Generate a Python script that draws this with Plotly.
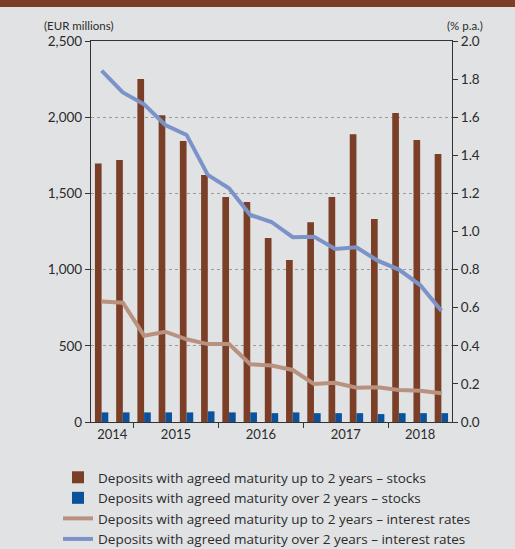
import plotly.graph_objects as go

quarters = ["2014 Q3", "2014 Q4", "2015 Q1", "2015 Q2", "2015 Q3", "2015 Q4",
            "2016 Q1", "2016 Q2", "2016 Q3", "2016 Q4", "2017 Q1", "2017 Q2",
            "2017 Q3", "2017 Q4", "2018 Q1", "2018 Q2", "2018 Q3"]
stocks_up2 = [1697, 1719, 2251, 2012, 1844, 1621, 1476, 1444, 1208, 1063,
              1310, 1476, 1888, 1332, 2028, 1850, 1758]
stocks_over2 = [63, 63, 63, 63, 63, 70, 63, 63, 58, 63, 58, 58, 58, 52, 58, 58, 58]
rate_up2 = [0.632, 0.626, 0.453, 0.474, 0.434, 0.409, 0.409, 0.303, 0.297, 0.273,
            0.200, 0.206, 0.180, 0.182, 0.168, 0.164, 0.151]
rate_over2 = [1.844, 1.730, 1.668, 1.559, 1.507, 1.297, 1.227, 1.087, 1.050, 0.970,
              0.973, 0.908, 0.917, 0.847, 0.800, 0.719, 0.584]
left_ticks = [0, 500, 1000, 1500, 2000, 2500]

names = ["Deposits with agreed maturity up to 2 years – stocks",
         "Deposits with agreed maturity over 2 years – stocks",
         "Deposits with agreed maturity up to 2 years – interest rates",
         "Deposits with agreed maturity over 2 years – interest rates"]

BROWN = "#7b3f27"
BLUE = "#0b519c"
LBROWN = "#b8917f"
LBLUE = "#7b93c9"
BG = "#e1e2e4"
TXT = "#2b2b2b"
FONT = "Lato"

idx = list(range(len(quarters)))
years = [q.split()[0] for q in quarters]
uniq = []
for y in years:
    if y not in uniq:
        uniq.append(y)
year_centers = [sum(i for i in idx if years[i] == y) / years.count(y) for y in uniq]
boundaries = [i - 0.5 for i in idx[1:] if years[i] != years[i - 1]]

W, H = 515, 549
ML, MR, MT, MB = 91, 63, 41, 127
PW, PH = W - ML - MR, H - MT - MB

def px_x(px):
    return (px - ML) / PW

def px_y(py):
    return (H - MB - py) / PH

fig = go.Figure()
fig.add_trace(go.Bar(x=idx, y=stocks_up2, name=names[0], marker_color=BROWN,
                     marker_line_width=0))
fig.add_trace(go.Bar(x=idx, y=stocks_over2, name=names[1], marker_color=BLUE,
                     marker_line_width=0))
fig.add_trace(go.Scatter(x=idx, y=rate_up2, name=names[2], mode="lines",
                         line=dict(color=LBROWN, width=4), yaxis="y2"))
fig.add_trace(go.Scatter(x=idx, y=rate_over2, name=names[3], mode="lines",
                         line=dict(color=LBLUE, width=4), yaxis="y2"))

fig.update_layout(
    width=W, height=H,
    margin=dict(l=ML, r=MR, t=MT, b=MB, pad=0, autoexpand=False),
    paper_bgcolor=BG, plot_bgcolor=BG,
    font=dict(family=FONT, size=13, color=TXT),
    barmode="group", bargap=0.37, bargroupgap=0,
    showlegend=True,
    legend=dict(orientation="v", x=px_x(58), xanchor="left", y=px_y(555), yanchor="bottom",
                bgcolor="rgba(0,0,0,0)",
                font=dict(family="Open Sans", size=13.5, color=TXT),
                traceorder="normal"),
    xaxis=dict(range=[-0.5, len(quarters) - 0.5], tickmode="array",
               tickvals=year_centers, ticktext=uniq, ticks="", showgrid=False,
               showline=True, linecolor="#333333", linewidth=1.3, mirror=True,
               zeroline=False, tickfont=dict(size=13),
               minor=dict(tickmode="array", tickvals=boundaries, ticks="outside",
                          ticklen=5, tickcolor="#333333", tickwidth=1.3, showgrid=False)),
    yaxis=dict(range=[0, 2500], tickmode="array", tickvals=left_ticks,
               ticktext=[f"{v:,}" for v in left_ticks], ticks="outside", ticklen=5,
               tickcolor="#333333", tickwidth=1.3, showgrid=True, gridcolor="#9a9a9a",
               griddash="dot", gridwidth=1, showline=True, linecolor="#333333",
               linewidth=1.3, zeroline=False, tickfont=dict(size=13.5)),
    yaxis2=dict(range=[0, 2], overlaying="y", side="right", dtick=0.2, tick0=0,
                tickformat=".1f", ticks="outside", ticklen=5, tickcolor="#333333",
                tickwidth=1.3, showgrid=False, showline=True, linecolor="#333333",
                linewidth=1.3, zeroline=False, tickfont=dict(size=13.5)),
    annotations=[
        dict(text="(EUR millions)", xref="paper", yref="paper", x=px_x(42), y=px_y(25),
             xanchor="left", yanchor="middle", showarrow=False, font=dict(size=11.5)),
        dict(text="(% p.a.)", xref="paper", yref="paper", x=px_x(485), y=px_y(25),
             xanchor="right", yanchor="middle", showarrow=False, font=dict(size=11.5)),
    ],
    shapes=[dict(type="rect", xref="paper", yref="paper", x0=px_x(0), x1=px_x(W),
                 y0=px_y(7), y1=px_y(0), fillcolor=BROWN, line_width=0, layer="above")],
)

fig.write_html("out.html", config={"displayModeBar": False},
               post_script="document.body.style.margin='0';document.body.style.padding='0';")
